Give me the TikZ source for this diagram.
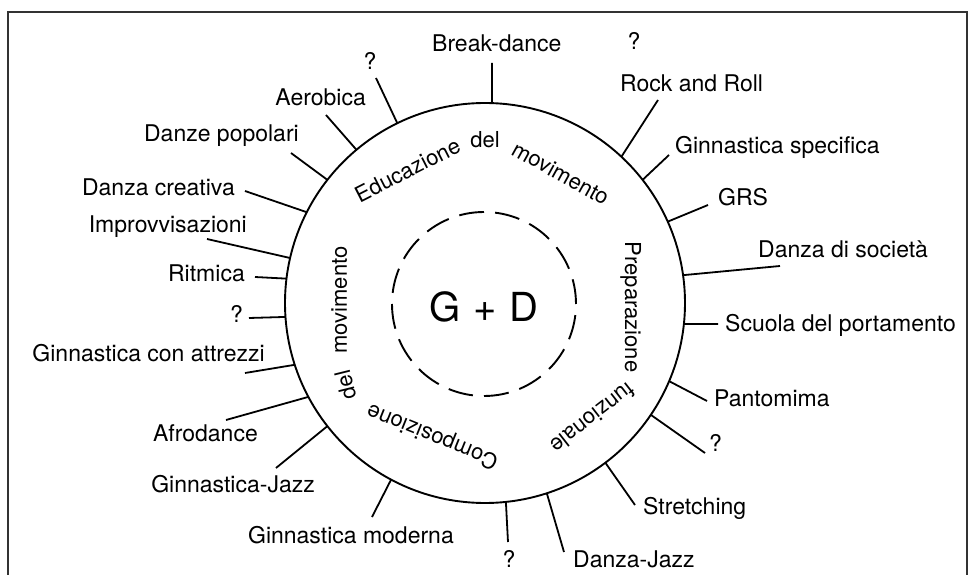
\documentclass[tikz,border=0pt]{standalone}
\usepackage{fontspec}
\setmainfont{TeX Gyre Heros}
\usetikzlibrary{positioning}
\tikzstyle{ring} = [circle, draw=black, line width=1.9pt, minimum size=400pt, inner sep=0pt, outer sep=0pt]
\tikzstyle{core} = [circle, draw=black, line width=1.9pt, dash pattern=on 25pt off 11.13pt, minimum size=184pt, inner sep=0pt]
\tikzstyle{item} = [inner sep=0pt, font=\fontsize{23}{26}\selectfont]
\tikzstyle{word} = [inner sep=0pt, anchor=base, font=\fontsize{22}{26}\selectfont]
\tikzstyle{spoke} = [line width=1.8pt]
\tikzstyle{frame} = [line width=1.4pt, draw=black!80]

\begin{document}
\begin{tikzpicture}[x=1pt, y=1pt]
   \useasboundingbox (-485,-272) rectangle (489,303);
   \draw [frame] (-477,-285) -- (-477,291) -- (482,291) -- (482,-285);
   \node (ring) [ring] at (0,0) {};
   \node (core) [core] at (-1,-1) {};
   \node (gd) [font=\fontsize{40}{42}\selectfont] at (-1,-4) {G\hspace{13pt}+\hspace{13pt}D};
   \node (w1) [word, rotate=27] at (-74,126) {Educazione};
   \node (w2) [word] at (0,155) {del};
   \node (w3) [word, rotate=-29] at (72,123) {movimento};
   \node (w4) [word, rotate=-90] at (140,-4) {Preparazione};
   \node (w5) [word, rotate=218] at (103,-109) {funzionale};
   \node (w6) [word, rotate=158] at (-50,-127) {Composizione};
   \node (w7) [word, rotate=104] at (-132,-80) {del};
   \node (w8) [word, rotate=90] at (-138,3) {movimento};
   \node (l1) [item, anchor=base] at (-115,233) {?};
   \node (l2) [item, anchor=base east] at (-119,197) {Aerobica};
   \node (l3) [item, anchor=base east] at (-186,161) {Danze popolari};
   \node (l4) [item, anchor=base east] at (-250,107) {Danza creativa};
   \node (l5) [item, anchor=base east] at (-238,70) {Improvvisazioni};
   \node (l6) [item, anchor=base east] at (-240,21) {Ritmica};
   \node (l7) [item, anchor=base east] at (-242,-20) {?};
   \node (l8) [item, anchor=base east] at (-220,-59) {Ginnastica con attrezzi};
   \node (l9) [item, anchor=base east] at (-227,-138) {Afrodance};
   \node (l10) [item, anchor=base east] at (-170,-189) {Ginnastica-Jazz};
   \node (l11) [item, anchor=base east] at (-31,-240) {Ginnastica moderna};
   \node (r1) [item, anchor=base west] at (-53,251) {Break-dance};
   \node (r2) [item, anchor=base] at (149,253) {?};
   \node (r3) [item, anchor=base west] at (135,211) {Rock and Roll};
   \node (r4) [item, anchor=base west] at (190,149) {Ginnastica specifica};
   \node (r5) [item, anchor=base west] at (233,97) {GRS};
   \node (r6) [item, anchor=base west] at (273,45) {Danza di società};
   \node (r7) [item, anchor=base west] at (240,-29) {Scuola del portamento};
   \node (r8) [item, anchor=base west] at (229,-103) {Pantomima};
   \node (r9) [item, anchor=base west] at (224,-148) {?};
   \node (r10) [item, anchor=base west] at (158,-211) {Stretching};
   \node (r11) [item, anchor=base west] at (88,-264) {Danza-Jazz};
   \node (r12) [item, anchor=base] at (24,-264) {?};
   \coordinate (el1) at (-109,225);
   \coordinate (el2) at (-159,188);
   \coordinate (el3) at (-194,150);
   \coordinate (el4) at (-240,112);
   \coordinate (el5) at (-278,64);
   \coordinate (el6) at (-230,26);
   \coordinate (el7) at (-236,-15);
   \coordinate (el8) at (-240,-70);
   \coordinate (el9) at (-259,-117);
   \coordinate (el10) at (-209,-165);
   \coordinate (el11) at (-113,-214);
   \coordinate (er1) at (7,240);
   \coordinate (er3) at (173,203);
   \coordinate (er4) at (184,148);
   \coordinate (er5) at (223,98);
   \coordinate (er6) at (295,37);
   \coordinate (er7) at (233,-21);
   \coordinate (er8) at (222,-98);
   \coordinate (er9) at (220,-150);
   \coordinate (er10) at (150,-202);
   \coordinate (er11) at (79,-249);
   \coordinate (er12) at (23,-239);
   \draw [spoke] (ring.116.3) -- (el1);
   \draw [spoke] (ring.130.4) -- (el2);
   \draw [spoke] (ring.142.1) -- (el3);
   \draw [spoke] (ring.153.4) -- (el4);
   \draw [spoke] (ring.167.1) -- (el5);
   \draw [spoke] (ring.173.4) -- (el6);
   \draw [spoke] (ring.184.3) -- (el7);
   \draw [spoke] (ring.198.9) -- (el8);
   \draw [spoke] (ring.208.1) -- (el9);
   \draw [spoke] (ring.218.5) -- (el10);
   \draw [spoke] (ring.242.0) -- (el11);
   \draw [spoke] (ring.88.0) -- (er1);
   \draw [spoke] (ring.47.6) -- (er3);
   \draw [spoke] (ring.38.9) -- (er4);
   \draw [spoke] (ring.24.6) -- (er5);
   \draw [spoke] (ring.8.4) -- (er6);
   \draw [spoke] (ring.-6.0) -- (er7);
   \draw [spoke] (ring.-23.5) -- (er8);
   \draw [spoke] (ring.-34.4) -- (er9);
   \draw [spoke] (ring.-53.5) -- (er10);
   \draw [spoke] (ring.-72.0) -- (er11);
   \draw [spoke] (ring.-84.0) -- (er12);
\end{tikzpicture}
\end{document}
